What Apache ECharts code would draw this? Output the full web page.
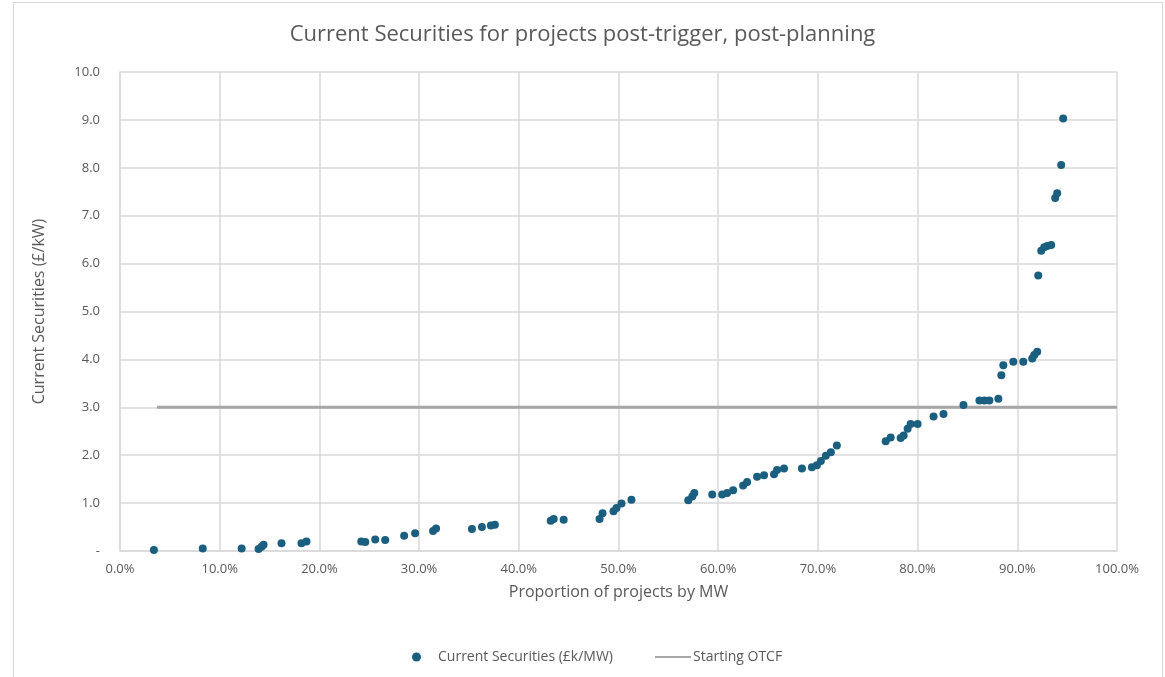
<!DOCTYPE html>
<html>
<head>
<meta charset="utf-8">
<script src="https://cdn.jsdelivr.net/npm/echarts@6/dist/echarts.min.js"></script>
<style>
html, body { margin: 0; padding: 0; background: #fff; }
#chart { width: 1165px; height: 677px; }
.frame { position: absolute; left: 13px; top: 2px; width: 1150px; height: 680px; border: 1px solid #d9d9d9; box-sizing: border-box; pointer-events: none; }
</style>
</head>
<body>
<div id="chart"></div>
<div class="frame"></div>
<script>
// proportion of projects by MW (%)
const shareMW = [3.4, 8.3, 12.2, 13.9, 14.2, 14.4, 16.2, 18.2, 18.7, 24.2, 24.6, 25.6, 26.6, 28.5, 29.6,
    31.4, 31.7, 35.3, 36.3, 37.2, 37.6, 43.2, 43.5, 44.5, 48.1, 48.4, 49.5, 49.8, 50.3, 51.3,
    57.0, 57.4, 57.6, 59.4, 60.4, 60.9, 61.5, 62.5, 62.9, 63.9, 64.6, 65.6, 65.9, 66.6, 68.4,
    69.4, 69.9, 70.3, 70.8, 71.3, 71.9, 76.8, 77.3, 78.3, 78.6, 79.0, 79.3, 80.0, 81.6, 82.6,
    84.6, 86.2, 86.7, 87.2, 88.1, 88.4, 88.6, 89.6, 90.6, 91.5, 91.7, 92.0, 92.1, 92.4, 92.7,
    93.0, 93.4, 93.8, 94.0, 94.4, 94.6];
// current securities (£k/MW)
const securities = [0.02, 0.05, 0.05, 0.04, 0.09, 0.13, 0.16, 0.16, 0.20, 0.20, 0.19, 0.24, 0.23, 0.32, 0.37,
    0.42, 0.47, 0.46, 0.50, 0.53, 0.55, 0.63, 0.67, 0.65, 0.67, 0.79, 0.83, 0.90, 0.99, 1.07,
    1.06, 1.14, 1.21, 1.18, 1.18, 1.21, 1.27, 1.37, 1.44, 1.55, 1.58, 1.60, 1.69, 1.72, 1.72,
    1.75, 1.79, 1.88, 1.99, 2.06, 2.20, 2.29, 2.37, 2.36, 2.41, 2.55, 2.65, 2.65, 2.81, 2.86,
    3.05, 3.14, 3.14, 3.14, 3.18, 3.67, 3.88, 3.95, 3.95, 4.02, 4.09, 4.16, 5.75, 6.27, 6.34,
    6.37, 6.39, 7.37, 7.47, 8.06, 9.03];
// starting OTCF line
const otcfX = [3.7, 100];
const otcfY = [3.0, 3.0];

const font = '"Open Sans", sans-serif';
const grey = '#595959';

var myChart = echarts.init(document.getElementById('chart'));

myChart.setOption({
    animation: false,
    title: {
        text: 'Current Securities for projects post-trigger, post-planning',
        left: 'center',
        top: 19,
        textStyle: { fontFamily: font, fontSize: 22, fontWeight: 'normal', color: grey }
    },
    legend: [
        {
            left: 407,
            top: 645,
            itemWidth: 9,
            itemHeight: 9,
            textStyle: { fontFamily: font, fontSize: 14, color: grey, padding: [0, 0, 0, 12] },
            data: [{ name: 'Current Securities (£k/MW)', icon: 'circle' }]
        },
        {
            left: 650,
            top: 645,
            itemWidth: 36,
            itemHeight: 2,
            textStyle: { fontFamily: font, fontSize: 14, color: grey, padding: [0, 0, 0, -3] },
            data: [{ name: 'Starting OTCF', icon: 'rect' }]
        }
    ],
    grid: { left: 120, right: 48, top: 72, bottom: 126 },
    xAxis: {
        type: 'value',
        min: 0,
        max: 100,
        interval: 10,
        name: 'Proportion of projects by MW',
        nameLocation: 'middle',
        nameGap: 33,
        nameTextStyle: { fontFamily: font, fontSize: 16, color: grey },
        axisLine: { show: true, lineStyle: { color: '#d9d9d9', width: 1.5 } },
        axisTick: { show: false },
        axisLabel: {
            fontFamily: font, fontSize: 13, color: grey, margin: 12,
            formatter: v => v.toFixed(1) + '%'
        },
        splitLine: { lineStyle: { color: '#d9d9d9', width: 1.5 } }
    },
    yAxis: {
        type: 'value',
        min: 0,
        max: 10,
        interval: 1,
        name: 'Current Securities (£/kW)',
        nameLocation: 'middle',
        nameGap: 73,
        nameTextStyle: { fontFamily: font, fontSize: 16, color: grey },
        axisLine: { show: true, lineStyle: { color: '#d9d9d9', width: 1.5 } },
        axisTick: { show: false },
        axisLabel: {
            fontFamily: font, fontSize: 13, color: grey, margin: 20,
            formatter: v => v === 0 ? '-' : v.toFixed(1)
        },
        splitLine: { lineStyle: { color: '#d9d9d9', width: 1.5 } }
    },
    series: [
        {
            name: 'Current Securities (£k/MW)',
            type: 'scatter',
            symbol: 'circle',
            symbolSize: 8,
            itemStyle: { color: '#1a5f7f', opacity: 1 },
            data: shareMW.map((x, i) => [x, securities[i]]),
            z: 3
        },
        {
            name: 'Starting OTCF',
            type: 'line',
            showSymbol: false,
            symbol: 'none',
            lineStyle: { color: '#a6a6a6', width: 3 },
            itemStyle: { color: '#a6a6a6' },
            data: otcfX.map((x, i) => [x, otcfY[i]]),
            z: 2
        }
    ]
});
</script>
</body>
</html>
